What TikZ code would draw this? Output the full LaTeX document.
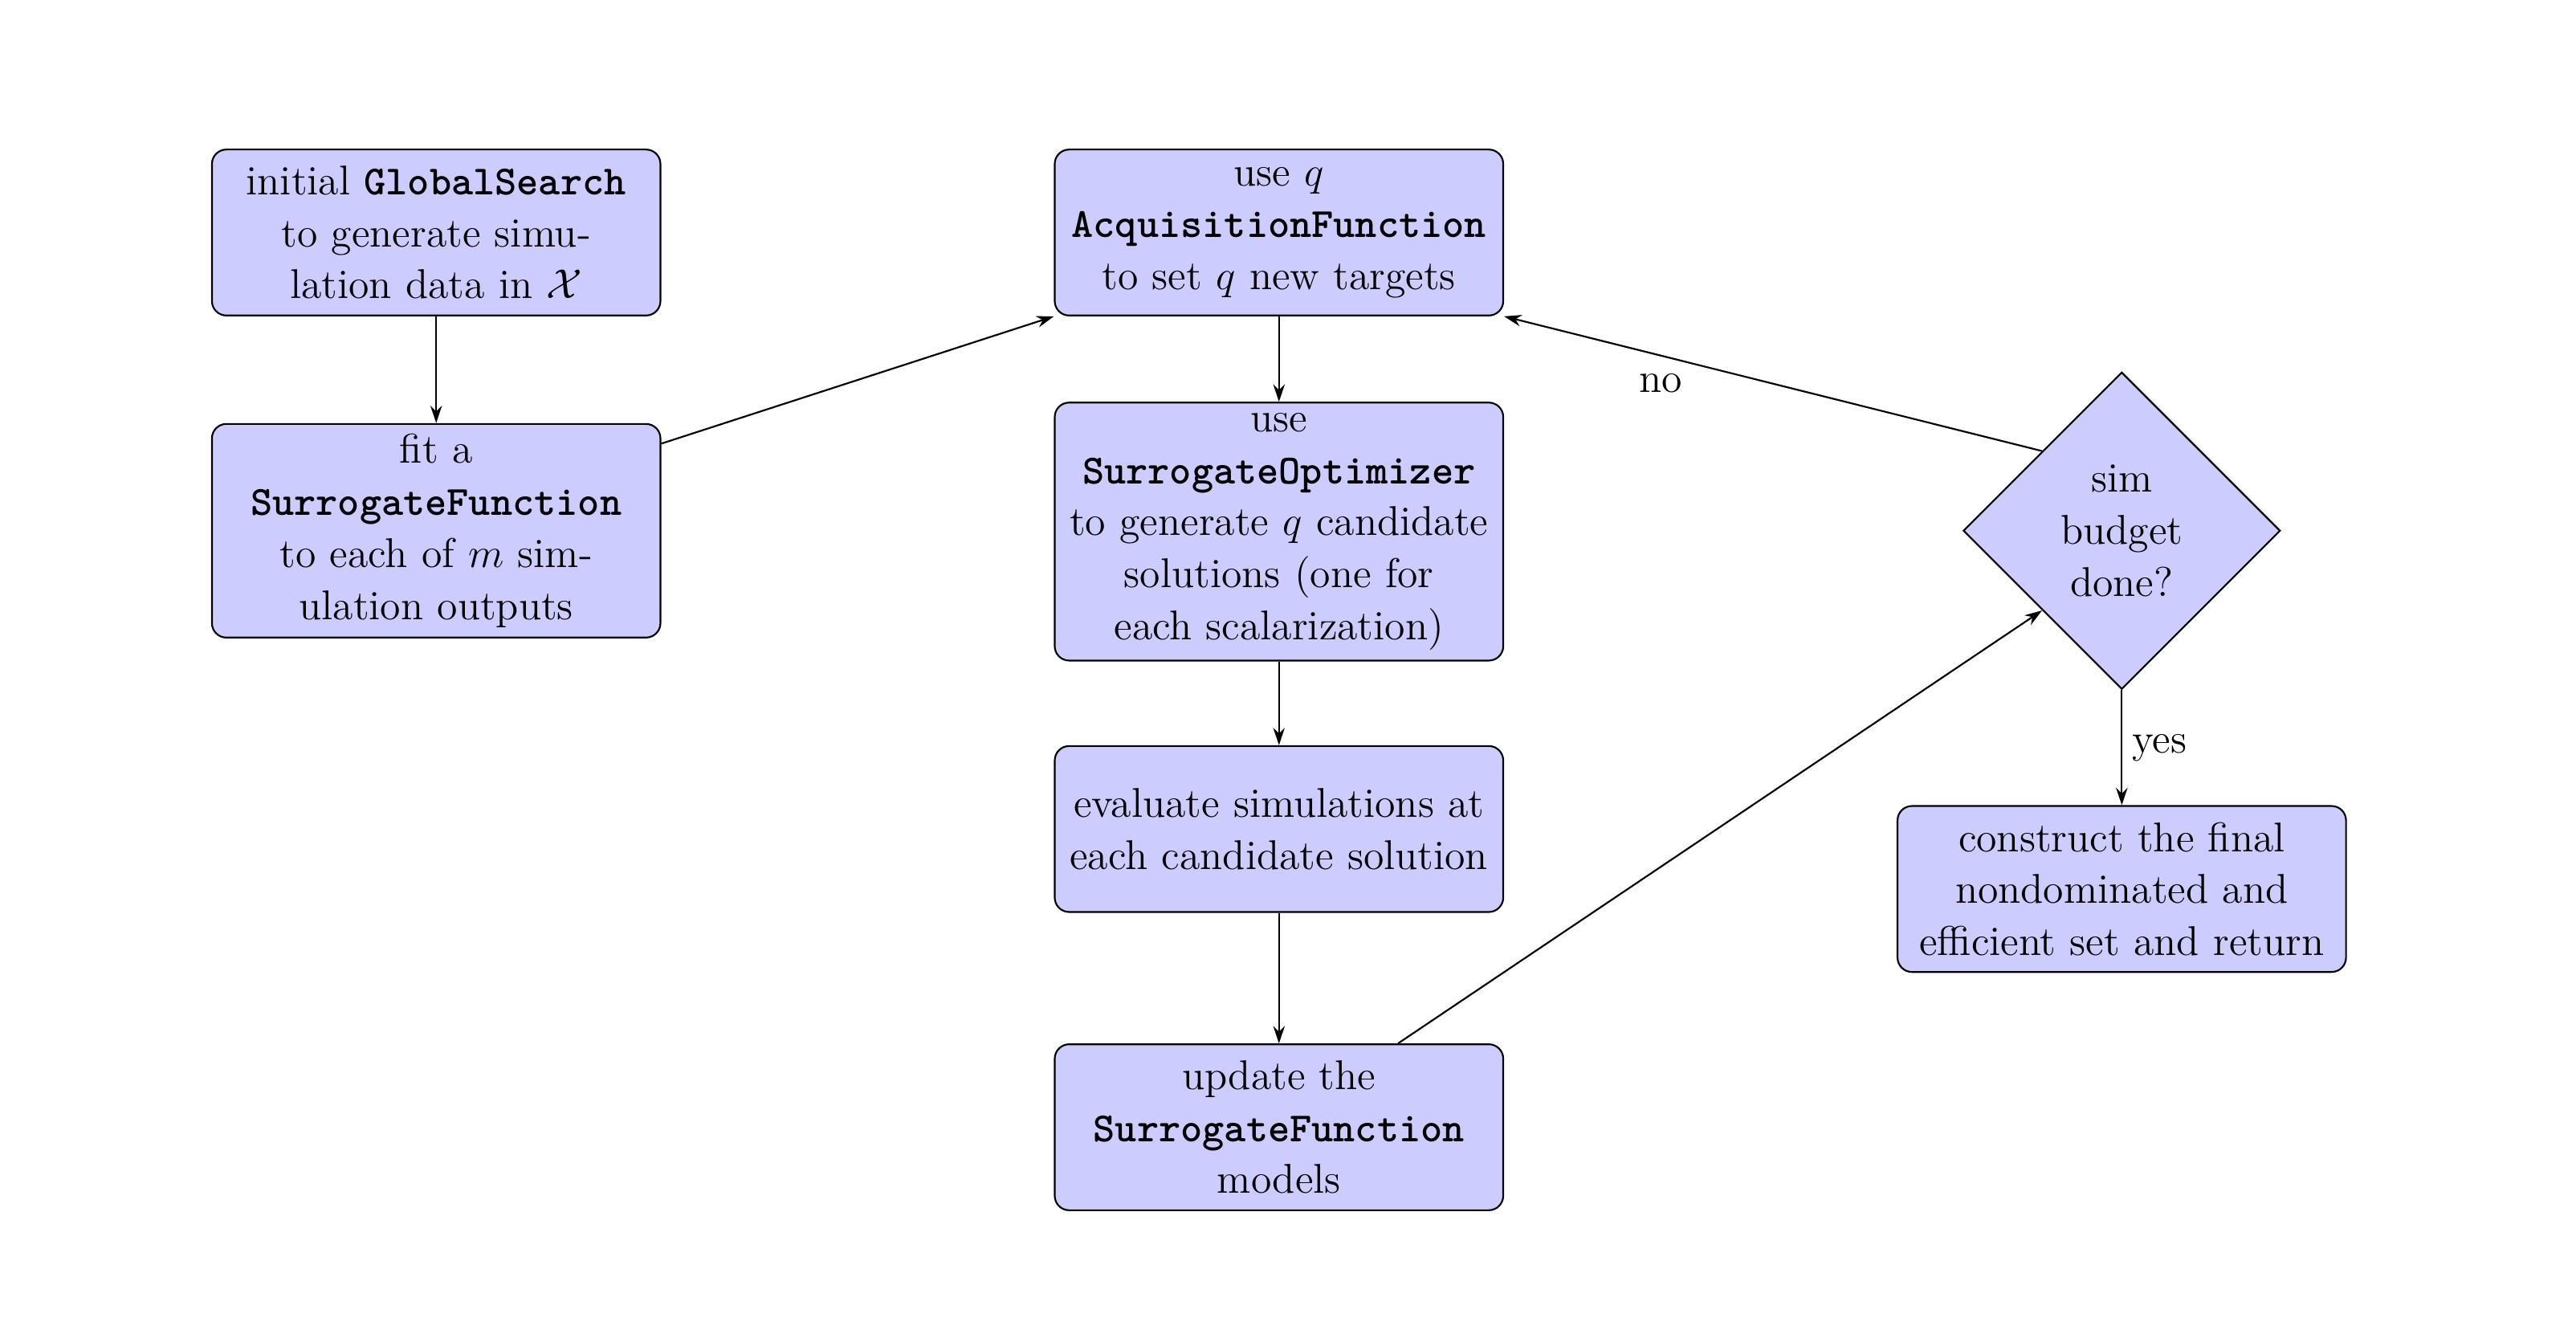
\documentclass[tikz,border=0pt]{standalone}
\usetikzlibrary{shapes.geometric,arrows.meta}
\begin{document}
\begin{tikzpicture}[line width=0.6pt, font=\Large,
  block/.style={rectangle, draw, fill=blue!20, rounded corners=5pt, text width=5.1cm, align=center, minimum width=5.46cm, inner sep=3pt},
  decision/.style={diamond, draw, fill=blue!20, text width=1.6cm, align=center, minimum width=3.86cm, minimum height=3.86cm, inner sep=0pt},
  line/.style={draw, -{Stealth[length=6pt,width=4pt]}}]

\useasboundingbox (0,0) rectangle (31.36,16.04);

\node[block, minimum height=2.02cm] (init) at (5.31,13.21) {initial \texttt{\textbf{GlobalSearch}} to generate simu\-lation data in $\mathcal{X}$};
\node[block, minimum height=2.6cm] (fit) at (5.31,9.58) {fit a \texttt{\textbf{SurrogateFunction}} to each of $m$ sim\-ulation outputs};
\node[block, minimum height=2.02cm] (acq) at (15.57,13.21) {use $q$ \texttt{\textbf{AcquisitionFunction}} to set $q$ new targets};
\node[block, minimum height=3.14cm] (opt) at (15.57,9.57) {use \texttt{\textbf{SurrogateOptimizer}} to generate $q$ candi\-date solutions (one for each scalarization)};
\node[block, minimum height=2.02cm] (eval) at (15.57,5.95) {evaluate simu\-lations at each candidate solution};
\node[block, minimum height=2.02cm] (upd) at (15.57,2.32) {update the \texttt{\textbf{SurrogateFunction}} models};
\node[decision] (done) at (25.83,9.58) {sim budget done?};
\node[block, minimum height=2.02cm] (final) at (25.83,5.22) {construct the final nondominated and efficient set and return};

\path[line] (init) -- (fit);
\path[line] ([yshift=-0.25cm]fit.north east) -- (acq.south west);
\path[line] (acq) -- (opt);
\path[line] (opt) -- (eval);
\path[line] (eval) -- (upd);
\path[line] ([xshift=1.45cm]upd.north) -- (done.south west);
\path[line] (done.north west) -- node[pos=0.65, below left] {no} (acq.south east);
\path[line] (done) -- node[right] {yes} (final);

\end{tikzpicture}
\end{document}
